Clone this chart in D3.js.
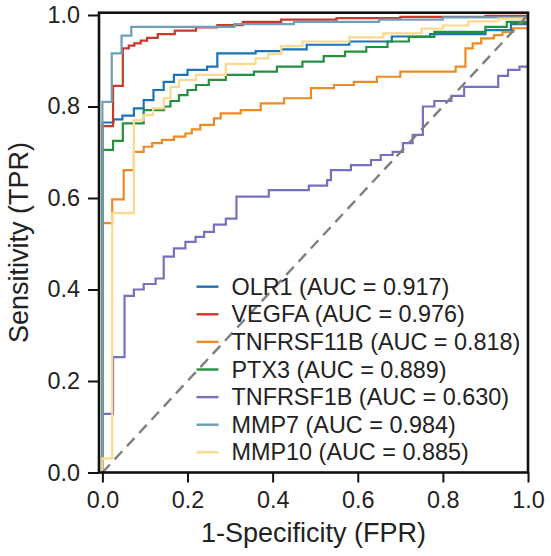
<!DOCTYPE html>
<html>
<head>
<meta charset="utf-8">
<script src="https://cdn.jsdelivr.net/npm/d3@7"></script>
<style>
  html, body { margin: 0; padding: 0; background: #fff; }
  svg { display: block; font-family: "Liberation Sans", Arial, Helvetica, sans-serif; }
</style>
</head>
<body>
<svg id="chart" width="551" height="556"></svg>
<script>
// ---- data (ROC step points: [fpr, tpr] where tpr rises at that fpr) ----
const seriesNames = ["OLR1", "VEGFA", "TNFRSF11B", "PTX3", "TNFRSF1B", "MMP7", "MMP10"];
const aucValues = [0.917, 0.976, 0.818, 0.889, 0.630, 0.984, 0.885];
const seriesColors = ["#1c73b8", "#c9382b", "#ee8a24", "#24913f", "#7571c2", "#6e9fb8", "#fdd98c"];

const rocOLR1 = [[0,0],[0,0.765],[0.026,0.772],[0.047,0.780],[0.074,0.796],[0.097,0.814],[0.12,0.836],[0.144,0.854],[0.168,0.869],[0.2,0.880],[0.246,0.887],[0.27,0.916],[0.36,0.921],[0.42,0.925],[0.48,0.935],[0.58,0.942],[0.68,0.953],[0.77,0.958],[0.9,0.967],[0.96,0.98],[1,1]];
const rocVEGFA = [[0,0],[0,0.757],[0.025,0.845],[0.048,0.927],[0.062,0.933],[0.075,0.938],[0.09,0.944],[0.105,0.950],[0.13,0.958],[0.17,0.966],[0.22,0.973],[0.27,0.978],[0.33,0.985],[0.42,0.990],[0.55,0.993],[0.7,0.996],[0.9,0.998],[1,1]];
const rocTNFRSF11B = [[0,0],[0,0.545],[0.023,0.597],[0.05,0.661],[0.074,0.701],[0.097,0.712],[0.117,0.720],[0.14,0.727],[0.168,0.734],[0.195,0.741],[0.21,0.750],[0.23,0.760],[0.262,0.774],[0.278,0.785],[0.325,0.792],[0.372,0.807],[0.427,0.818],[0.49,0.840],[0.544,0.847],[0.591,0.854],[0.645,0.865],[0.7,0.876],[0.83,0.887],[0.853,0.927],[0.87,0.938],[0.89,0.949],[0.92,0.956],[0.94,0.963],[0.965,0.971],[1,1]];
const rocPTX3 = [[0,0],[0,0.705],[0.025,0.725],[0.048,0.763],[0.097,0.792],[0.145,0.800],[0.16,0.812],[0.18,0.825],[0.2,0.836],[0.22,0.847],[0.25,0.858],[0.29,0.869],[0.356,0.876],[0.41,0.887],[0.47,0.898],[0.52,0.910],[0.57,0.920],[0.62,0.930],[0.67,0.942],[0.72,0.952],[0.78,0.963],[0.9,0.974],[0.95,0.985],[1,1]];
const rocTNFRSF1B = [[0,0],[0,0.128],[0.025,0.252],[0.052,0.386],[0.074,0.400],[0.097,0.412],[0.125,0.424],[0.144,0.472],[0.168,0.490],[0.195,0.504],[0.219,0.515],[0.239,0.526],[0.262,0.542],[0.29,0.555],[0.315,0.603],[0.391,0.617],[0.485,0.627],[0.528,0.639],[0.537,0.661],[0.584,0.672],[0.631,0.683],[0.654,0.694],[0.682,0.701],[0.706,0.720],[0.729,0.738],[0.753,0.800],[0.78,0.812],[0.82,0.823],[0.85,0.843],[0.93,0.867],[0.953,0.880],[0.98,0.887],[1,0.887],[1,1]];
const rocMMP7 = [[0,0],[0,0.81],[0.022,0.916],[0.045,0.955],[0.068,0.974],[0.31,0.980],[0.45,0.985],[0.65,0.990],[0.8,0.995],[1,1]];
const rocMMP10 = [[0,0],[0,0.031],[0.023,0.567],[0.074,0.770],[0.097,0.781],[0.119,0.796],[0.144,0.818],[0.16,0.843],[0.18,0.858],[0.22,0.869],[0.29,0.893],[0.36,0.905],[0.39,0.915],[0.42,0.932],[0.47,0.942],[0.58,0.951],[0.66,0.960],[0.75,0.970],[0.8,0.977],[0.86,0.986],[0.93,0.992],[1,1]];
const seriesData = [rocOLR1, rocVEGFA, rocTNFRSF11B, rocPTX3, rocTNFRSF1B, rocMMP7, rocMMP10];

const tickValues = [0, 0.2, 0.4, 0.6, 0.8, 1.0];
const xLabel = "1-Specificity (FPR)";
const yLabel = "Sensitivity (TPR)";

// ---- layout ----
const L = 99, R = 528, T = 12.7, B = 472.5;
const svg = d3.select("#chart");
const x = d3.scaleLinear().domain([-0.008, 1.0]).range([L, R]);
const y = d3.scaleLinear().domain([0, 1.005]).range([B, T]);

svg.append("defs").append("clipPath").attr("id", "clip")
  .append("rect").attr("x", L).attr("y", T).attr("width", R - L).attr("height", B - T);

const plot = svg.append("g").attr("clip-path", "url(#clip)");

const line = d3.line().x(d => x(d[0])).y(d => y(d[1])).curve(d3.curveStepAfter);

seriesData.forEach((data, i) => {
  plot.append("path").datum(data)
    .attr("d", line)
    .attr("fill", "none")
    .attr("stroke", seriesColors[i])
    .attr("stroke-width", 2.2)
    .attr("stroke-linejoin", "miter");
});

// diagonal
plot.append("path").datum([[0,0],[1,1]])
  .attr("d", d3.line().x(d => x(d[0])).y(d => y(d[1])))
  .attr("fill", "none").attr("stroke", "#7f7f7f")
  .attr("stroke-width", 2.4).attr("stroke-dasharray", "11,7");

// axes
const xAxis = svg.append("g").attr("transform", `translate(0,${B})`)
  .call(d3.axisBottom(x).tickValues(tickValues).tickFormat(d3.format(".1f")).tickSize(10).tickPadding(9));
const yAxis = svg.append("g").attr("transform", `translate(${L},0)`)
  .call(d3.axisLeft(y).tickValues(tickValues).tickFormat(d3.format(".1f")).tickSize(11).tickPadding(8));
[xAxis, yAxis].forEach(g => {
  g.select(".domain").remove();
  g.selectAll(".tick line").attr("stroke", "#111").attr("stroke-width", 2);
  g.selectAll(".tick text").attr("fill", "#222").style("font-size", "23.4px")
    .style("font-family", '"Liberation Sans", Arial, sans-serif');
});

// frame
svg.append("rect").attr("x", L).attr("y", T).attr("width", R - L).attr("height", B - T)
  .attr("fill", "none").attr("stroke", "#111").attr("stroke-width", 2.6);

// axis labels
svg.append("text").attr("x", (L + R) / 2).attr("y", 542).attr("text-anchor", "middle")
  .style("font-size", "27px").attr("fill", "#222").text(xLabel);
svg.append("text").attr("transform", `translate(28,${(T + B) / 2}) rotate(-90)`)
  .attr("text-anchor", "middle").style("font-size", "27px").attr("fill", "#222").text(yLabel);

// legend
const legend = svg.append("g");
seriesNames.forEach((name, i) => {
  const ly = 286.7 + i * 27.6;
  legend.append("line").attr("x1", 196.5).attr("x2", 218.5).attr("y1", ly).attr("y2", ly)
    .attr("stroke", seriesColors[i]).attr("stroke-width", 2.4);
  legend.append("text").attr("x", 231.5).attr("y", ly).attr("dy", "0.35em")
    .style("font-size", "23.4px").attr("fill", "#222")
    .text(`${name} (AUC = ${aucValues[i].toFixed(3)})`);
});
</script>
</body>
</html>
